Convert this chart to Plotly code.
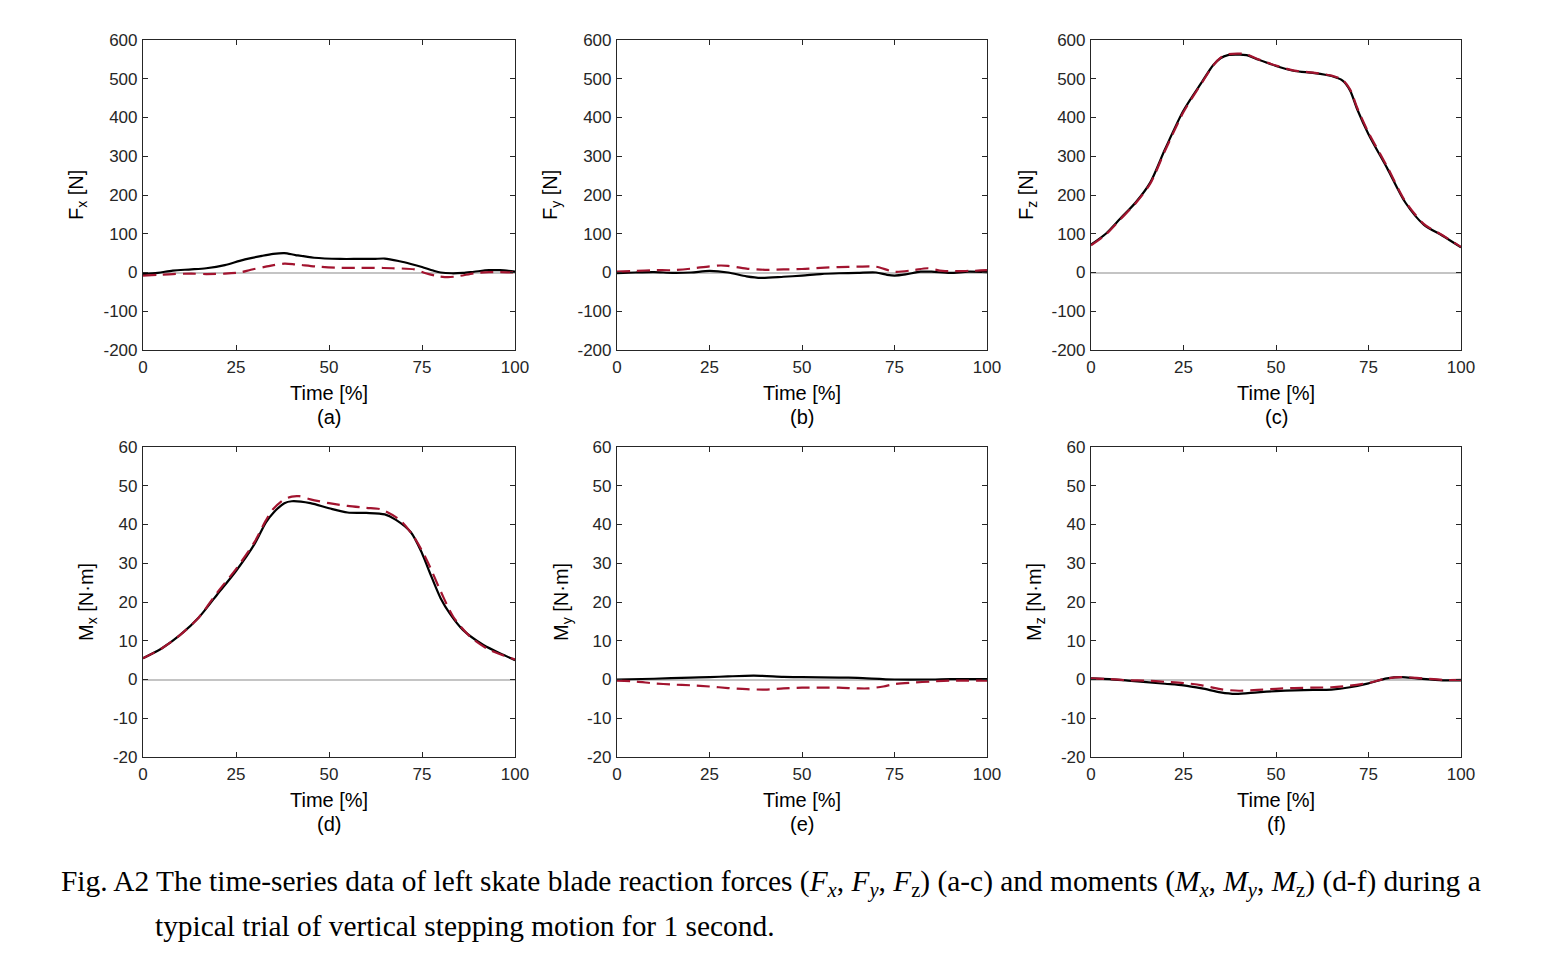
import plotly.graph_objects as go

W, H = 1550, 971

# ---------------- data ----------------
t_fx_b = [0, 4, 8, 13, 17, 22, 26, 29, 32, 35, 38, 41, 46, 53, 58, 62, 65, 69, 72, 75, 78, 80, 83, 86, 89, 93, 96, 100]
fx_black = [-4, -1, 5, 8, 11, 19, 30, 37, 43, 48, 50, 45, 38, 35, 35, 35, 36, 29, 22, 14, 5, 0, -2, -1, 2, 6, 6, 2]
t_fx_r = [0, 4, 8, 13, 17, 22, 26, 29, 33, 38, 41, 47, 53, 58, 62, 67, 73, 76, 79, 82, 85, 89, 93, 96, 100]
fx_red = [-8, -6, -4, -3, -4, -3, 0, 7, 15, 23, 21, 15, 12, 12, 12, 11, 8, -2, -9, -12, -9, -2, 1, 1, 0]

t_fy_b = [0, 5, 10, 15, 20, 25, 30, 35, 39, 45, 50, 55, 60, 65, 70, 73, 75, 78, 82, 85, 90, 95, 100]
fy_black = [-2, 0, 1, -1, 0, 4, 0, -10, -14, -11, -8, -4, -2, -1, 0, -6, -8, -5, 2, 2, -1, 2, 1]
t_fy_r = [0, 5, 10, 15, 20, 25, 28, 30, 35, 40, 45, 50, 55, 60, 65, 70, 75, 80, 84, 88, 95, 100]
fy_red = [2, 4, 6, 6, 10, 16, 18, 17, 10, 7, 8, 9, 12, 14, 15, 15, 2, 6, 11, 4, 4, 6]

t_fz_b = [0, 4, 8, 12, 16, 20, 25, 30, 33, 35, 37, 40, 42, 45, 50, 55, 60, 65, 68, 70, 72, 75, 80, 85, 90, 95, 100]
fz_black = [72, 100, 140, 180, 232, 318, 418, 492, 535, 553, 561, 562, 561, 550, 533, 520, 515, 507, 495, 470, 420, 357, 270, 180, 123, 95, 65]
t_fz_r = [0, 4, 8, 12, 16, 20, 25, 30, 33, 35, 37, 40, 42, 45, 50, 55, 60, 65, 68, 70, 72, 75, 80, 85, 90, 95, 100]
fz_red = [70, 98, 138, 178, 229, 314, 414, 490, 534, 554, 563, 565, 563, 551, 534, 521, 516, 508, 497, 473, 424, 361, 274, 183, 125, 96, 66]

t_mx_b = [0, 5, 10, 15, 20, 25, 30, 33, 35, 38, 40, 45, 50, 55, 60, 65, 68, 72, 75, 77, 80, 82.5, 86, 91.5, 97, 100]
mx_black = [5.5, 8, 11.5, 16, 22, 28, 35, 40.5, 43, 45.5, 46, 45.5, 44.2, 43.1, 43, 42.6, 41.2, 38, 32.6, 27.8, 21, 17, 12.8, 8.9, 6.3, 5]
t_mx_r = [0, 5, 10, 15, 20, 25, 30, 33, 35, 38, 40, 42, 45, 50, 55, 60, 64, 69, 72.7, 76.3, 80, 83.4, 88, 93, 100]
mx_red = [5.5, 8, 11.5, 16, 22.5, 28.5, 35.5, 41, 44, 46.5, 47.2, 47.3, 46.5, 45.5, 44.8, 44.3, 43.9, 41.2, 37, 30.8, 22.8, 16.2, 11, 7.7, 5.2]

t_my_b = [0, 10, 20, 25, 30, 37, 45, 50, 60, 65, 75, 85, 90, 100]
my_black = [0, 0.2, 0.5, 0.6, 0.8, 1.0, 0.7, 0.6, 0.5, 0.4, 0, 0, 0.1, 0.1]
t_my_r = [0, 5, 10, 15, 20, 25, 30, 35, 40, 45, 50, 55, 60, 65, 68, 72, 75, 80, 85, 90, 95, 100]
my_red = [-0.3, -0.5, -1.0, -1.3, -1.5, -1.8, -2.2, -2.5, -2.6, -2.3, -2.1, -2.1, -2.1, -2.3, -2.3, -1.8, -1.2, -0.8, -0.5, -0.3, -0.3, -0.3]

t_mz_b = [0, 5, 10, 15, 20, 25, 30, 35, 39, 45, 50, 55, 60, 65, 70, 75, 80, 84, 88, 95, 100]
mz_black = [0.3, 0.1, -0.3, -0.7, -1.1, -1.5, -2.3, -3.3, -3.7, -3.3, -3.0, -2.8, -2.7, -2.6, -2.0, -1.0, 0.3, 0.6, 0.3, -0.2, -0.2]
t_mz_r = [0, 5, 10, 15, 20, 25, 30, 35, 40, 45, 50, 55, 60, 65, 70, 75, 80, 84, 88, 95, 100]
mz_red = [0.3, 0.1, -0.2, -0.3, -0.6, -0.9, -1.5, -2.5, -2.9, -2.7, -2.4, -2.2, -2.1, -2.0, -1.6, -0.9, 0.3, 0.6, 0.4, -0.1, -0.1]

x_ticks = [0, 25, 50, 75, 100]
f_ticks = [-200, -100, 0, 100, 200, 300, 400, 500, 600]
m_ticks = [-20, -10, 0, 10, 20, 30, 40, 50, 60]

y_titles = ["F<sub>x</sub> [N]", "F<sub>y</sub> [N]", "F<sub>z</sub> [N]",
            "M<sub>x</sub> [N·m]", "M<sub>y</sub> [N·m]", "M<sub>z</sub> [N·m]"]
panel_labels = ["(a)", "(b)", "(c)", "(d)", "(e)", "(f)"]
x_title = "Time [%]"

series = [
    (t_fx_b, fx_black, t_fx_r, fx_red),
    (t_fy_b, fy_black, t_fy_r, fy_red),
    (t_fz_b, fz_black, t_fz_r, fz_red),
    (t_mx_b, mx_black, t_mx_r, mx_red),
    (t_my_b, my_black, t_my_r, my_red),
    (t_mz_b, mz_black, t_mz_r, mz_red),
]

# ---------------- layout geometry (pixels) ----------------
col_px = [(143, 515), (617, 987), (1091, 1461)]
row_px = [(40, 350), (447, 757)]
ytitle_off = [65, 65, 63, 56, 55, 56]

AX = "#262626"
RED = "#A2142F"
FONT = "Liberation Sans, Arial, sans-serif"

fig = go.Figure()
annotations = []

for i in range(6):
    r, c = divmod(i, 3)
    idx = "" if i == 0 else str(i + 1)
    xa, ya = "x" + idx, "y" + idx
    tb, vb, tr, vr = series[i]
    fig.add_trace(go.Scatter(x=tb, y=vb, mode="lines", xaxis=xa, yaxis=ya,
                             line=dict(color="black", width=2.2, shape="spline", smoothing=0.8),
                             showlegend=False, hoverinfo="skip"))
    fig.add_trace(go.Scatter(x=tr, y=vr, mode="lines", xaxis=xa, yaxis=ya,
                             line=dict(color=RED, width=2.2, dash="13px,7px", shape="spline", smoothing=0.8),
                             showlegend=False, hoverinfo="skip"))
    x0, x1 = col_px[c]
    y0, y1 = row_px[r]
    ticks = f_ticks if r == 0 else m_ticks
    common = dict(showline=True, linecolor=AX, linewidth=1.2, mirror="ticks",
                  ticks="inside", ticklen=5, tickwidth=1, tickcolor=AX, automargin=False,
                  showgrid=False, tickfont=dict(family=FONT, size=17, color=AX))
    fig.layout["xaxis" + idx] = dict(domain=[x0 / W, x1 / W], range=[0, 100],
                                     tickvals=x_ticks, ticktext=[str(v) for v in x_ticks],
                                     anchor=ya, zeroline=False,
                                     ticklabelstandoff=1, **common)
    fig.layout["yaxis" + idx] = dict(domain=[1 - y1 / H, 1 - y0 / H],
                                     range=[ticks[0], ticks[-1]], tickvals=ticks,
                                     ticktext=[str(v) for v in ticks],
                                     anchor=xa, zeroline=True, zerolinecolor="#c4c4c4",
                                     zerolinewidth=1.5, ticklabelstandoff=1, **common)
    xc = (x0 + x1) / 2
    annotations.append(dict(x=xc / W, y=1 - (y1 + 43) / H, xref="paper", yref="paper",
                            text=x_title, showarrow=False, xanchor="center", yanchor="middle",
                            font=dict(family=FONT, size=20, color="black")))
    annotations.append(dict(x=xc / W, y=1 - (y1 + 67) / H, xref="paper", yref="paper",
                            text=panel_labels[i], showarrow=False, xanchor="center", yanchor="middle",
                            font=dict(family=FONT, size=20, color="black")))
    annotations.append(dict(x=(x0 - ytitle_off[i]) / W, y=1 - ((y0 + y1) / 2) / H,
                            xref="paper", yref="paper", text=y_titles[i], textangle=-90,
                            showarrow=False, xanchor="center", yanchor="middle",
                            font=dict(family=FONT, size=20, color="black")))

SERIF = "Liberation Serif, Times New Roman, serif"
cap1 = ("Fig. A2 The time-series data of left skate blade reaction forces "
        "(<i>F</i><sub><i>x</i></sub>, <i>F</i><sub><i>y</i></sub>, <i>F</i><sub>z</sub>) (a-c) and moments "
        "(<i>M</i><sub><i>x</i></sub>, <i>M</i><sub><i>y</i></sub>, <i>M</i><sub>z</sub>) (d-f) during a")
cap2 = "typical trial of vertical stepping motion for 1 second."
annotations.append(dict(x=59 / W, y=1 - 883 / H, xref="paper", yref="paper", text=cap1,
                        showarrow=False, xanchor="left", yanchor="middle",
                        font=dict(family=SERIF, size=29.4, color="black")))
annotations.append(dict(x=153 / W, y=1 - 926 / H, xref="paper", yref="paper", text=cap2,
                        showarrow=False, xanchor="left", yanchor="middle",
                        font=dict(family=SERIF, size=29.4, color="black")))

fig.update_layout(width=W, height=H, margin=dict(l=0, r=0, t=0, b=0, pad=0, autoexpand=False),
                  paper_bgcolor="white", plot_bgcolor="white",
                  annotations=annotations, showlegend=False)

fig.write_html("out.html", config={"displayModeBar": False},
               post_script="document.body.style.margin='0';document.body.style.overflow='hidden';")
